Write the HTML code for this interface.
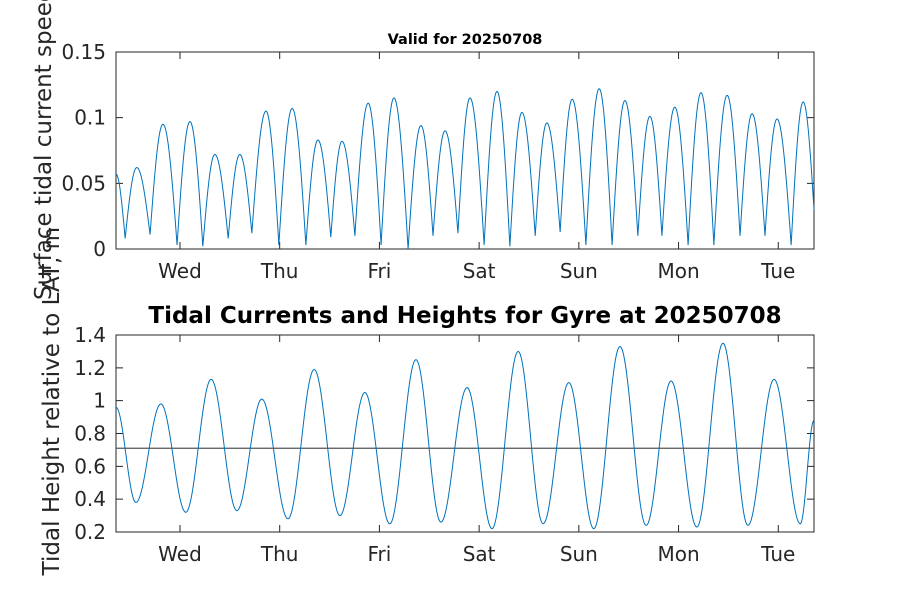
<!DOCTYPE html>
<html><head><meta charset="utf-8"><style>
body{margin:0;background:#fff}
svg{display:block;font-family:"DejaVu Sans","Liberation Sans",sans-serif}
</style></head><body>
<svg id="fig" width="900" height="600" viewBox="0 0 900 600" xmlns="http://www.w3.org/2000/svg">
<rect width="900" height="600" fill="#fff"/>
<text x="465" y="44" font-size="14.5" font-weight="bold" text-anchor="middle" fill="#000">Valid for 20250708</text>
<text x="465" y="323" font-size="23" font-weight="bold" text-anchor="middle" fill="#000">Tidal Currents and Heights for Gyre at 20250708</text>
<text transform="translate(51,300) rotate(-90)" font-size="23" fill="#262626">Surface tidal current speed, kn</text>
<text transform="translate(59,227) rotate(-90)" font-size="23" text-anchor="end" fill="#262626">Tidal Height relative to LAT, m</text>
<g id="top"></g>
<g id="bot"></g>
</svg>
<script>
// Shared x axis (hours relative to Wed 00:00)
const dayLabels = ["Wed","Thu","Fri","Sat","Sun","Mon","Tue"];
const xMinH = -15.4, xMaxH = 152.6;
// Top: current speed extrema
const speedTimes = [-15.4,-13.2,-10.4,-7.2,-4.1,-0.7,2.4,5.5,8.4,11.6,14.4,17.3,20.7,23.8,27.0,30.3,33.2,36.3,39.0,42.1,45.3,48.4,51.5,54.9,58.0,60.9,63.8,66.9,69.8,73.2,76.3,79.4,82.3,85.5,88.3,91.5,94.4,97.7,100.9,104.0,107.1,110.2,113.1,116.0,119.1,122.3,125.4,128.5,131.7,134.8,137.7,140.8,143.7,147.1,150.0,152.6];
const speedValues = [0.057,0.008,0.062,0.011,0.095,0.003,0.097,0.002,0.072,0.008,0.072,0.012,0.105,0.003,0.107,0.003,0.083,0.009,0.082,0.010,0.111,0.003,0.115,0.000,0.094,0.010,0.090,0.012,0.115,0.003,0.120,0.002,0.104,0.010,0.096,0.013,0.114,0.003,0.122,0.003,0.113,0.010,0.101,0.010,0.108,0.003,0.119,0.003,0.117,0.010,0.103,0.010,0.099,0.003,0.112,0.030];
const speedTicks = [0,0.05,0.1,0.15];
const speedTickLabels = ["0","0.05","0.1","0.15"];
// Bottom: height extrema
const heightTimes = [-15.4,-10.6,-4.6,1.4,7.5,13.7,19.7,26.0,32.3,38.5,44.5,50.5,56.8,62.8,69.1,75.1,81.4,87.4,93.6,99.6,105.9,112.2,118.2,124.4,130.7,136.7,143.0,149.3,152.6];
const heightValues = [0.96,0.38,0.98,0.32,1.13,0.33,1.01,0.28,1.19,0.30,1.05,0.25,1.25,0.26,1.08,0.22,1.30,0.25,1.11,0.22,1.33,0.24,1.12,0.23,1.35,0.24,1.13,0.25,0.88];
const meanHeight = [0.71];
const heightTicks = [0.2,0.4,0.6,0.8,1,1.2,1.4];
const heightTickLabels = ["0.2","0.4","0.6","0.8","1","1.2","1.4"];

const NS="http://www.w3.org/2000/svg";
const L=116,R=814;
function xs(h){return L+(h-xMinH)/(xMaxH-xMinH)*(R-L);}
function mk(tag,attrs,parent){const e=document.createElementNS(NS,tag);for(const k in attrs)e.setAttribute(k,attrs[k]);parent.appendChild(e);return e;}

function drawAxes(g,top,bottom,ymin,ymax,ticks,labels,prefix){
  const ys=v=>bottom-(v-ymin)/(ymax-ymin)*(bottom-top);
  const box=mk('rect',{x:L,y:top,width:R-L,height:bottom-top,fill:'#fff',stroke:'#262626','stroke-width':1},g);
  
  
  ticks.forEach((t,i)=>{
    const y=ys(t);
    const tk=mk('path',{d:`M${L} ${y}H${L+7}M${R} ${y}H${R-7}`,stroke:'#262626','stroke-width':1},g);
    
    
    const tl=mk('text',{x:106,y:y+7,'font-size':20,'text-anchor':'end',fill:'#262626'},g);
    tl.textContent=labels[i];
    
    
  });
  dayLabels.forEach((d,i)=>{
    const x=xs(i*24);
    const tk=mk('path',{d:`M${x} ${bottom}V${bottom-7}M${x} ${top}V${top+7}`,stroke:'#262626','stroke-width':1},g);
    
    
    const tl=mk('text',{x:x,y:bottom+29,'font-size':20,'text-anchor':'middle',fill:'#262626'},g);
    tl.textContent=d;
    
    
  });
  return ys;
}

function curve(times,vals,ys,mode){
  let d='';
  for(let i=0;i<times.length-1;i++){
    const t0=times[i],t1=times[i+1],v0=vals[i],v1=vals[i+1];
    const n=24;
    for(let k=(i===0?0:1);k<=n;k++){
      const f=k/n;let v;
      if(mode==='abs'){
        if(v1<v0){v=v1+(v0-v1)*Math.sin(Math.PI/2*(1-f));}
        else{v=v0+(v1-v0)*Math.sin(Math.PI/2*f);}
      } else {
        v=v0+(v1-v0)*(1-Math.cos(Math.PI*f))/2;
      }
      const x=xs(t0+(t1-t0)*f);
      d+=(d?'L':'M')+x.toFixed(2)+' '+ys(v).toFixed(2);
    }
  }
  return d;
}

const gt=document.getElementById('top');
const ysT=drawAxes(gt,52,249,0,0.15,speedTicks,speedTickLabels,'top');
const p1=mk('path',{d:curve(speedTimes,speedValues,ysT,'abs'),fill:'none',stroke:'#0072BD','stroke-width':1},gt);



const gb=document.getElementById('bot');
const ysB=drawAxes(gb,335,532,0.2,1.4,heightTicks,heightTickLabels,'bottom');
const ml=mk('line',{x1:L,x2:R,y1:ysB(meanHeight[0]),y2:ysB(meanHeight[0]),stroke:'#555','stroke-width':1.2},gb);


const p2=mk('path',{d:curve(heightTimes,heightValues,ysB,'cos'),fill:'none',stroke:'#0072BD','stroke-width':1},gb);


</script>
</body></html>
